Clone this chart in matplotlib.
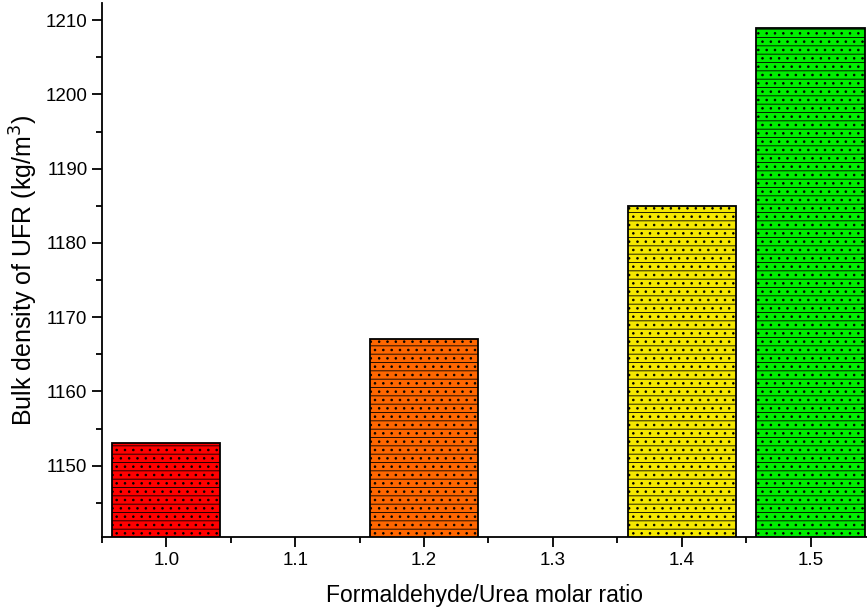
import matplotlib
matplotlib.use("Agg")
import matplotlib.pyplot as plt
from matplotlib.ticker import MultipleLocator

plt.rcParams['font.family'] = ['Liberation Sans', 'DejaVu Sans']
plt.rcParams['hatch.linewidth'] = 0.6

ratios = [1.0, 1.2, 1.4, 1.5]
density = [1153, 1167, 1185, 1209]
colors = ['#FF0000', '#FF6600', '#F5E800', '#00EE00']
xticks = [1.0, 1.1, 1.2, 1.3, 1.4, 1.5]

fig = plt.figure(figsize=(8.67, 6.12), dpi=100)
ax = fig.add_axes([0.1176, 0.1225, 0.882, 0.8725])

bars = ax.bar(ratios, density, width=0.084, color=colors, edgecolor='black',
              linewidth=1.3, hatch='..--')
ax.set_xlim(0.95, 1.5435)
ax.set_ylim(1140.4, 1212.3)
ax.set_xticks(xticks)
ax.set_xticklabels([f"{v:.1f}" for v in xticks])
ax.yaxis.set_major_locator(MultipleLocator(10))
ax.yaxis.set_minor_locator(MultipleLocator(5))
ax.xaxis.set_minor_locator(MultipleLocator(0.05))
ax.tick_params(axis='both', which='major', direction='out', length=7, width=1.3, labelsize=13.5)
ax.tick_params(axis='both', which='minor', direction='out', length=4, width=1.3)
for s in ['top', 'right']:
    ax.spines[s].set_visible(False)
for s in ['left', 'bottom']:
    ax.spines[s].set_linewidth(1.3)
ax.set_xlabel('Formaldehyde/Urea molar ratio', fontsize=16.5, labelpad=11)
ax.set_ylabel('Bulk density of UFR (kg/m$^3$)', fontsize=18, labelpad=4)

fig.savefig('out.png', dpi=100)
